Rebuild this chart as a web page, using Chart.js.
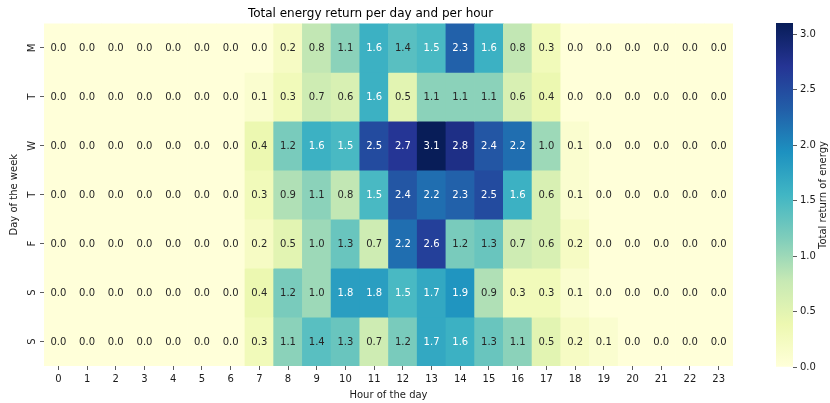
<!DOCTYPE html>
<html>
<head>
<meta charset="utf-8">
<script src="https://cdn.jsdelivr.net/npm/chart.js@4"></script>
<style>
  html, body { margin: 0; padding: 0; background: #fff; }
  #wrap { position: relative; width: 830px; height: 403px; }
  #heat { position: absolute; left: 0; top: 0; }
  #cbar { position: absolute; left: 770px; top: 0; }
</style>
</head>
<body>
<div id="wrap">
  <canvas id="heat" width="830" height="403"></canvas>
  <canvas id="cbar" width="60" height="403"></canvas>
</div>
<script>
// Hours on the x axis, days on the y axis
const hours = ['0','1','2','3','4','5','6','7','8','9','10','11','12','13','14','15','16','17','18','19','20','21','22','23'];
const days = ['M', 'T', 'W', 'T', 'F', 'S', 'S'];

// Energy returned per hour, one list per day of the week
const monday    = [0,0,0,0,0,0,0, 0.0,0.2,0.8,1.1,1.6,1.4,1.5,2.3,1.6,0.8,0.3, 0,0,0,0,0,0];
const tuesday   = [0,0,0,0,0,0,0, 0.1,0.3,0.7,0.6,1.6,0.5,1.1,1.1,1.1,0.6,0.4, 0,0,0,0,0,0];
const wednesday = [0,0,0,0,0,0,0, 0.4,1.2,1.6,1.5,2.5,2.7,3.1,2.8,2.4,2.2,1.0,0.1, 0,0,0,0,0];
const thursday  = [0,0,0,0,0,0,0, 0.3,0.9,1.1,0.8,1.5,2.4,2.2,2.3,2.5,1.6,0.6,0.1, 0,0,0,0,0];
const friday    = [0,0,0,0,0,0,0, 0.2,0.5,1.0,1.3,0.7,2.2,2.6,1.2,1.3,0.7,0.6,0.2, 0,0,0,0,0];
const saturday  = [0,0,0,0,0,0,0, 0.4,1.2,1.0,1.8,1.8,1.5,1.7,1.9,0.9,0.3,0.3,0.1, 0,0,0,0,0];
const sunday    = [0,0,0,0,0,0,0, 0.3,1.1,1.4,1.3,0.7,1.2,1.7,1.6,1.3,1.1,0.5,0.2,0.1, 0,0,0,0];

// Colour bar tick labels
const colorbarTicks = [0, 0.5, 1.0, 1.5, 2.0, 2.5, 3.0];

const rows = [monday, tuesday, wednesday, thursday, friday, saturday, sunday];
const valueMax = Math.max(...rows.flat());

// YlGnBu colour map stops
const ylgnbu = ['#ffffd9','#edf8b1','#c7e9b4','#7fcdbb','#41b6c4','#1d91c0','#225ea8','#253494','#081d58'];
const stopRgb = ylgnbu.map(h => [1,3,5].map(i => parseInt(h.substr(i,2),16)));

function rgbFor(v) {
  let t = Math.min(1, Math.max(0, v / valueMax)) * (stopRgb.length - 1);
  const i = Math.min(stopRgb.length - 2, Math.floor(t));
  const f = t - i;
  return stopRgb[i].map((c, k) => c + (stopRgb[i+1][k] - c) * f);
}
function colourFor(v) {
  const [r,g,b] = rgbFor(v);
  return `rgb(${Math.round(r)},${Math.round(g)},${Math.round(b)})`;
}
function luminance([r,g,b]) {
  const lin = c => { c /= 255; return c <= 0.03928 ? c / 12.92 : Math.pow((c + 0.055) / 1.055, 2.4); };
  return 0.2126 * lin(r) + 0.7152 * lin(g) + 0.0722 * lin(b);
}

const FONT = 'DejaVu Sans';
const TXT = '#1a1a1a';

// Each day is a row of floating bars spanning one unit on the y axis
const datasets = rows.map((vals, i) => ({
  label: days[i],
  data: vals.map(() => [i - 0.5, i + 0.5]),
  cellValues: vals,
  backgroundColor: vals.map(colourFor),
  borderWidth: 0,
  barPercentage: 1,
  categoryPercentage: 1,
  grouped: false
}));

const cellLabels = {
  id: 'cellLabels',
  afterDatasetsDraw(chart) {
    const ctx = chart.ctx;
    ctx.save();
    ctx.font = `10px "${FONT}"`;
    ctx.textAlign = 'center';
    ctx.textBaseline = 'middle';
    chart.data.datasets.forEach((ds, di) => {
      const meta = chart.getDatasetMeta(di);
      meta.data.forEach((el, j) => {
        const v = ds.cellValues[j];
        ctx.fillStyle = luminance(rgbFor(v)) > 0.408 ? '#262626' : '#ffffff';
        ctx.fillText(v.toFixed(1), el.x, (el.y + el.base) / 2 + 0.5);
      });
    });
    ctx.restore();
  }
};

new Chart(document.getElementById('heat'), {
  type: 'bar',
  data: { labels: hours, datasets },
  plugins: [cellLabels],
  options: {
    responsive: false,
    animation: false,
    layout: { padding: { left: 8, right: 97, top: 0, bottom: 2 } },
    plugins: {
      legend: { display: false },
      tooltip: { enabled: false },
      title: {
        display: true,
        text: 'Total energy return per day and per hour',
        color: '#000',
        font: { family: FONT, size: 12, weight: 'normal' },
        padding: { top: 7, bottom: 2 }
      }
    },
    scales: {
      x: {
        type: 'category',
        offset: true,
        border: { display: false },
        grid: { display: true, drawOnChartArea: false, offset: false, tickLength: 4, tickColor: '#333', tickWidth: 0.8 },
        ticks: { color: TXT, font: { family: FONT, size: 10 }, padding: 3, autoSkip: false, minRotation: 0, maxRotation: 0 },
        title: { display: true, text: 'Hour of the day', color: TXT, font: { family: FONT, size: 10 }, padding: { top: 1, bottom: 0 } }
      },
      y: {
        type: 'linear',
        min: -0.5,
        max: 6.5,
        reverse: true,
        afterBuildTicks: scale => { scale.ticks = days.map((d, i) => ({ value: i })); },
        border: { display: false },
        grid: { display: true, drawOnChartArea: false, tickLength: 4, tickColor: '#333', tickWidth: 0.8 },
        ticks: { color: TXT, font: { family: FONT, size: 10 }, padding: 3, minRotation: 90, maxRotation: 90, crossAlign: 'center', callback: v => days[v] },
        title: { display: true, text: 'Day of the week', color: TXT, font: { family: FONT, size: 10 }, padding: { top: 0, bottom: 2 } }
      }
    }
  }
});

// Colour bar: a single bar from 0 to the maximum, filled with the colour map
const colorbarTitle = {
  id: 'colorbarTitle',
  afterDraw(chart) {
    const { ctx, chartArea } = chart;
    ctx.save();
    ctx.font = `10px "${FONT}"`;
    ctx.fillStyle = TXT;
    ctx.textAlign = 'center';
    ctx.textBaseline = 'middle';
    ctx.translate(chartArea.right + 30, (chartArea.top + chartArea.bottom) / 2);
    ctx.rotate(-Math.PI / 2);
    ctx.fillText('Total return of energy', 0, 0);
    ctx.restore();
  }
};

new Chart(document.getElementById('cbar'), {
  type: 'bar',
  data: {
    labels: [''],
    datasets: [{
      data: [valueMax],
      borderWidth: 0,
      barPercentage: 1,
      categoryPercentage: 1,
      backgroundColor: ctx => {
        const area = ctx.chart.chartArea;
        if (!area) return ylgnbu[0];
        const g = ctx.chart.ctx.createLinearGradient(0, area.bottom, 0, area.top);
        ylgnbu.forEach((c, i) => g.addColorStop(i / (ylgnbu.length - 1), c));
        return g;
      }
    }]
  },
  plugins: [colorbarTitle],
  options: {
    responsive: false,
    animation: false,
    layout: { padding: { left: 6, right: 14, top: 23, bottom: 36 } },
    plugins: { legend: { display: false }, tooltip: { enabled: false } },
    scales: {
      x: { display: false },
      y: {
        position: 'right',
        min: 0,
        max: valueMax,
        afterBuildTicks: scale => { scale.ticks = colorbarTicks.map(v => ({ value: v })); },
        afterFit: scale => { scale.width = 23; },
        border: { display: false },
        grid: { display: true, drawOnChartArea: false, tickLength: 4, tickColor: '#333', tickWidth: 0.8 },
        ticks: { color: TXT, font: { family: FONT, size: 10 }, padding: 3, callback: v => v.toFixed(1) }
      }
    }
  }
});
</script>
</body>
</html>
